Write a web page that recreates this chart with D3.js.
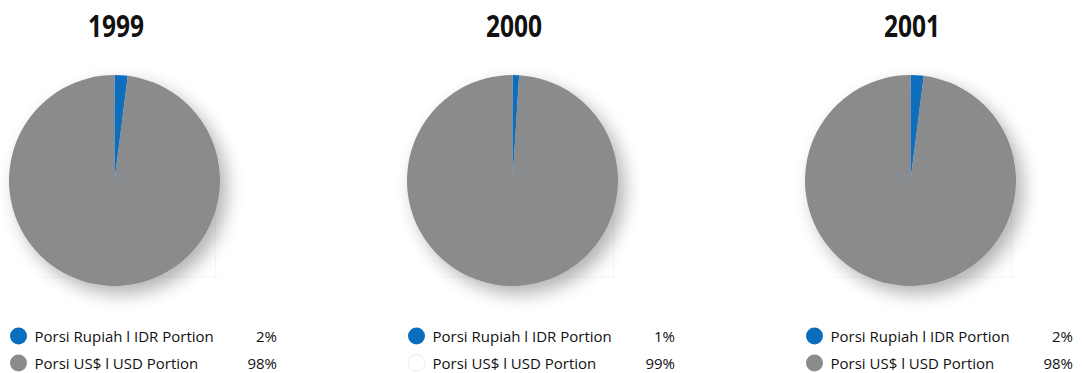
<!DOCTYPE html>
<html>
<head>
<meta charset="utf-8">
<script src="https://cdn.jsdelivr.net/npm/d3@7"></script>
<style>
  html, body { margin: 0; padding: 0; background: #ffffff; }
  svg { display: block; }
</style>
</head>
<body>
<svg id="chart" width="1082" height="373"></svg>
<script>
// Currency composition per year (percent)
const years = ["1999", "2000", "2001"];
const idrShare = [2, 1, 2];
const usdShare = [98, 99, 98];
const seriesNames = ["Porsi Rupiah l IDR Portion", "Porsi US$ l USD Portion"];
const seriesColors = ["#0a6ebd", "#8a8b8d"];
// legend swatch for the USD row of each year
const usdSwatch = ["#8a8b8d", "#ffffff", "#8a8b8d"];

const W = 1082, H = 373;
const radius = 105.5;
const pieY = 180.5;

const svg = d3.select("#chart");

// soft drop shadow under each pie
const defs = svg.append("defs");
const f = defs.append("filter").attr("id", "pieShadow")
  .attr("x", "-30%").attr("y", "-30%").attr("width", "160%").attr("height", "160%");
f.append("feGaussianBlur").attr("in", "SourceAlpha").attr("stdDeviation", 9).attr("result", "blur");
f.append("feOffset").attr("in", "blur").attr("dx", 7).attr("dy", 8).attr("result", "off");
f.append("feComponentTransfer").attr("in", "off").attr("result", "shadow")
  .append("feFuncA").attr("type", "linear").attr("slope", 0.3);
const merge = f.append("feMerge");
merge.append("feMergeNode").attr("in", "shadow");
merge.append("feMergeNode").attr("in", "SourceGraphic");

const x = d3.scalePoint().domain(years).range([114.5, 910.5]);

const pie = d3.pie().sort(null).value(d => d.value);
const arc = d3.arc().innerRadius(0).outerRadius(radius);

years.forEach((yr, i) => {
  const cx = x(yr);
  const data = [
    { key: seriesNames[0], value: idrShare[i], color: seriesColors[0] },
    { key: seriesNames[1], value: usdShare[i], color: seriesColors[1] }
  ];

  const g = svg.append("g");

  // title (condensed bold figures)
  g.append("text")
    .attr("x", cx + 1.5).attr("y", 37)
    .attr("text-anchor", "middle")
    .attr("textLength", 56)
    .attr("lengthAdjust", "spacingAndGlyphs")
    .style("font-family", "'Open Sans', 'Noto Sans', sans-serif")
    .style("font-weight", "bold")
    .style("font-size", "30px")
    .style("fill", "#111111")
    .text(yr);

  // faint edges of the shadow panel
  g.append("line")
    .attr("x1", cx - radius + 30).attr("x2", cx + radius + 1)
    .attr("y1", pieY + 96.5).attr("y2", pieY + 96.5)
    .style("stroke", "#000").style("stroke-opacity", 0.04);
  g.append("line")
    .attr("x1", cx + radius - 4.5).attr("x2", cx + radius - 4.5)
    .attr("y1", pieY - 30).attr("y2", pieY + 96.5)
    .style("stroke", "#000").style("stroke-opacity", 0.04);

  // pie
  const pg = g.append("g")
    .attr("transform", `translate(${cx},${pieY})`)
    .attr("filter", "url(#pieShadow)");
  pg.selectAll("path")
    .data(pie(data))
    .join("path")
    .attr("d", arc)
    .attr("fill", d => d.data.color);

  // legend
  const lx = cx - 96;
  const rows = [
    { label: seriesNames[0], value: idrShare[i], fill: seriesColors[0] },
    { label: seriesNames[1], value: usdShare[i], fill: usdSwatch[i] }
  ];
  const lg = g.append("g");
  rows.forEach((r, j) => {
    const cyRow = 336 + j * 27;
    lg.append("circle")
      .attr("cx", lx).attr("cy", cyRow).attr("r", 8.5)
      .attr("fill", r.fill)
      .attr("stroke", r.fill === "#ffffff" ? "#e4e4e4" : "none")
      .attr("stroke-width", 0.8);
    lg.append("text")
      .attr("x", lx + 16).attr("y", cyRow + 6)
      .style("font-family", "'Open Sans', 'Noto Sans', sans-serif")
      .style("font-size", "15px")
      .style("fill", "#111111")
      .text(r.label);
    lg.append("text")
      .attr("x", lx + 258.5).attr("y", cyRow + 6)
      .attr("text-anchor", "end")
      .style("font-family", "'Open Sans', 'Noto Sans', sans-serif")
      .style("font-size", "15px")
      .style("fill", "#111111")
      .text(r.value + "%");
  });
});
</script>
</body>
</html>
